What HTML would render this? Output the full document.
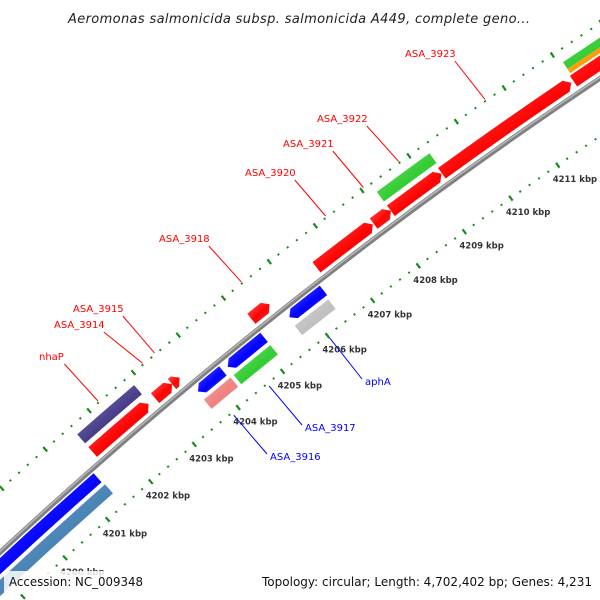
<!DOCTYPE html>
<html><head><meta charset="utf-8"><style>
html,body{margin:0;padding:0;background:#fff;width:600px;height:600px;overflow:hidden;}
svg{display:block;overflow:hidden;}
text{font-family:"DejaVu Sans","Liberation Sans",sans-serif;}
</style></head><body>
<svg id="map" width="600" height="600" viewBox="0 0 600 600" xmlns="http://www.w3.org/2000/svg">
<defs>
<linearGradient id="gshade" x1="0" y1="0" x2="1" y2="1">
<stop offset="0" stop-color="#fff" stop-opacity="0.35"/>
<stop offset="0.55" stop-color="#fff" stop-opacity="0"/>
<stop offset="1" stop-color="#000" stop-opacity="0.3"/>
</linearGradient>
</defs>
<g id="rings"></g>
<g id="backbone"></g>
<g id="features"></g>
<g id="labels"></g>
<text x="68" y="23" font-size="13" font-style="italic" fill="#222" textLength="462" lengthAdjust="spacing">Aeromonas salmonicida subsp. salmonicida A449, complete geno...</text>
<rect x="4" y="571" width="148" height="22" fill="#fff" fill-opacity="0.85"/>
<text x="9" y="586" font-size="12" fill="#111" textLength="134" lengthAdjust="spacingAndGlyphs">Accession: NC_009348</text>
<text x="262" y="586" font-size="12" fill="#111" textLength="330" lengthAdjust="spacingAndGlyphs">Topology: circular; Length: 4,702,402 bp; Genes: 4,231</text>
</svg>
<script>
// data (kbp)
const featStart = [4198.0, 4198.0, 4201.58, 4201.58, 4203.00, 4203.38, 4203.64, 4203.63, 4204.31, 4204.30, 4205.15, 4205.68, 4205.66, 4206.58, 4207.82, 4208.19, 4208.19, 4209.28, 4212.05, 4212.08, 4212.08];
const featEnd   = [4201.35, 4201.37, 4202.85, 4202.87, 4203.38, 4203.55, 4204.20, 4204.23, 4205.12, 4205.12, 4205.55, 4206.43, 4206.40, 4207.80, 4208.19, 4209.27, 4209.31, 4212.00, 4214.5, 4214.5, 4214.5];
const featTrack = ['revCDS','revGene','fwdCDS','fwdGene','fwdCDS','fwdCDS','revCDS','revGene','revCDS','revGene','fwdCDS','revCDS','revGene','fwdCDS','fwdCDS','fwdCDS','fwdGene','fwdCDS','fwdCDS','fwdOrange','fwdGreen'];
const featColor = ['#0000ff','#4682b4','#ff0000','#483d8b','#ff0000','#ff0000','#0000ff','#f08080','#0000ff','#33cc33','#ff0000','#0000ff','#c0c0c0','#ff0000','#ff0000','#ff0000','#33cc33','#ff0000','#ff0000','#ff9900','#33cc33'];
const labelText = ['ASA_3923','ASA_3922','ASA_3921','ASA_3920','ASA_3918','ASA_3915','ASA_3914','nhaP','aphA','ASA_3917','ASA_3916'];
const labelKbp  = [4210.6, 4208.78, 4208.03, 4207.22, 4205.39, 4203.47, 4203.2, 4202.2, 4206.05, 4204.7, 4203.9];
const tickStart = 4198, tickEnd = 4214;
const tickLabels = ['4200 kbp','4201 kbp','4202 kbp','4203 kbp','4204 kbp','4205 kbp','4206 kbp','4207 kbp','4208 kbp','4209 kbp','4210 kbp','4211 kbp'];
const tickLabelKbp = [4200,4201,4202,4203,4204,4205,4206,4207,4208,4209,4210,4211];

const CX=3274, CY=4079, R0=4812;
const tracks={fwdCDS:[6,19],fwdGene:[24,36],revCDS:[-16,-4],revGene:[-32,-20],fwdOrange:[21,26],fwdGreen:[26,34]};
const NS='http://www.w3.org/2000/svg';
function ang(k){return -2.2978+(k-4201)*0.01203;}
function pt(r,a){return [CX+r*Math.cos(a),CY+r*Math.sin(a)];}
function f(p){return p[0].toFixed(2)+' '+p[1].toFixed(2);}
function mk(tag,attrs,parent){const e=document.createElementNS(NS,tag);for(const k in attrs)e.setAttribute(k,attrs[k]);parent.appendChild(e);return e;}

const rings=document.getElementById('rings');
const bb=document.getElementById('backbone');
const a0=ang(4197),a1=ang(4215);
let e=mk('path',{d:'M'+f(pt(R0,a0))+' A'+R0+' '+R0+' 0 0 1 '+f(pt(R0,a1)),fill:'none',stroke:'#808080','stroke-width':5},bb);


e=mk('path',{d:'M'+f(pt(R0+1,a0))+' A'+(R0+1)+' '+(R0+1)+' 0 0 1 '+f(pt(R0+1,a1)),fill:'none',stroke:'#b8b8b8','stroke-width':1.5},bb);



[46,-48].forEach(function(off){
  const r=R0+off;
  for(let i=0;i<=(tickEnd-tickStart)*5;i++){
    const k=tickStart+i*0.2;const a=ang(k);
    const major=(i%5===0);
    const hl=major?3:1;
    const p1=pt(r-hl,a),p2=pt(r+hl,a);
    const t=mk('line',{x1:p1[0],y1:p1[1],x2:p2[0],y2:p2[1],stroke:'#1a8a1a','stroke-width':major?2.2:2},rings);
    
    
  }
});
tickLabels.forEach(function(s,i){
  const p=pt(R0-48,ang(tickLabelKbp[i]));
  const t=mk('text',{x:(p[0]-5).toFixed(1),y:(p[1]+17).toFixed(1),'font-size':'8.5',fill:'#333','font-weight':'bold'},rings);
  t.textContent=s;
  
  
});

const fg=document.getElementById('features');
featStart.forEach(function(s,i){
  const tr=tracks[featTrack[i]];
  const ri=R0+tr[0],ro=R0+tr[1],rm=(ri+ro)/2;
  let b1=ang(s),b2=ang(featEnd[i]);
  const arrow=(featTrack[i]==='fwdCDS')?1:(featTrack[i]==='revCDS'?-1:0);
  const d=6/R0;
  let path;
  if(arrow===1){
    const e2=b2-d;
    path='M'+f(pt(ro,b1))+' A'+ro+' '+ro+' 0 0 1 '+f(pt(ro,e2))+' L'+f(pt(rm,b2))+' L'+f(pt(ri,e2))+' A'+ri+' '+ri+' 0 0 0 '+f(pt(ri,b1))+' Z';
  }else if(arrow===-1){
    const s2=b1+d;
    path='M'+f(pt(rm,b1))+' L'+f(pt(ro,s2))+' A'+ro+' '+ro+' 0 0 1 '+f(pt(ro,b2))+' L'+f(pt(ri,b2))+' A'+ri+' '+ri+' 0 0 0 '+f(pt(ri,s2))+' Z';
  }else{
    path='M'+f(pt(ro,b1))+' A'+ro+' '+ro+' 0 0 1 '+f(pt(ro,b2))+' L'+f(pt(ri,b2))+' A'+ri+' '+ri+' 0 0 0 '+f(pt(ri,b1))+' Z';
  }
  const g=mk('g',{},fg);
  
  
  mk('path',{d:path,fill:featColor[i]},g);
  mk('path',{d:path,fill:'url(#gshade)'},g);
});

const lg=document.getElementById('labels');
const labelPos=[[405,57],[317,122],[283,147],[245,176],[159,242],[73,312],[54,328],[39,360],[365,385],[305,431],[270,460]];
labelText.forEach(function(s,i){
  const fwd=i<8;
  const col=fwd?'#ff0000':'#0000ff';
  const lp=labelPos[i];
  const anchor=pt(fwd?R0+46:R0-48,ang(labelKbp[i]));
  let lx,ly;
  if(fwd){lx=lp[0]+s.length*6.1+1;ly=lp[1]+4;}else{lx=lp[0]-3;ly=lp[1]-6;}
  const l=mk('line',{x1:lx,y1:ly,x2:anchor[0].toFixed(1),y2:(anchor[1]+(fwd?-2:4)).toFixed(1),stroke:col,'stroke-width':1},lg);
  
  
  const t=mk('text',{x:lp[0],y:lp[1],'font-size':'10',fill:col},lg);
  t.textContent=s;
  
  
});
</script>
</body></html>
